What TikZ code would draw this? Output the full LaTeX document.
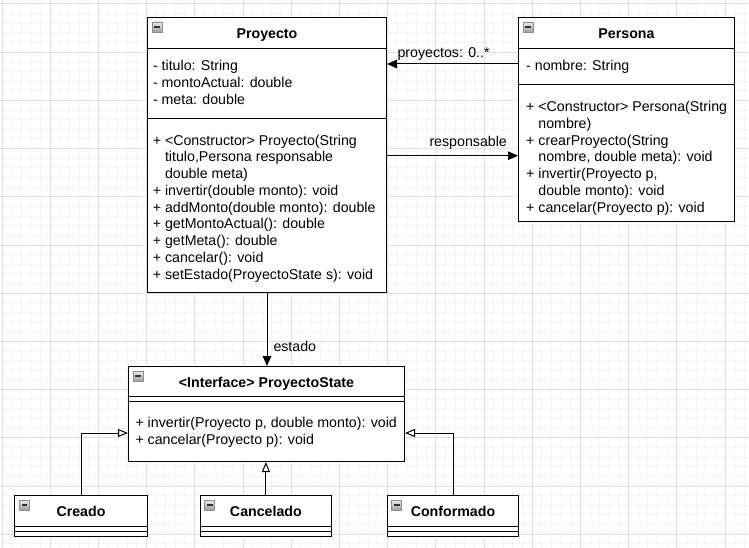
\documentclass[tikz,border=0pt]{standalone}
\usepackage{fontspec}
\setmainfont{Liberation Sans}
\usepackage{tikz}
\usetikzlibrary{arrows.meta}

\definecolor{gridminor}{RGB}{244,244,244}
\definecolor{gridmajor}{RGB}{224,224,224}

\newcommand{\minusicon}[1]{%
    \draw [draw=black!45, top color=black!8, bottom color=black!38, line width=0.6pt] ([shift={(5,5)}]#1) rectangle ++(10,10);
    \draw [line width=1.2pt, black!80] ([shift={(7.2,10)}]#1) -- ++(5.6,0);}

\begin{document}
\begin{tikzpicture}[x=1pt, y=-1pt, font=\fontsize{14.2}{16.75}\selectfont,
    classbox/.style={draw, fill=white, line width=1pt, inner sep=0pt, anchor=north west},
    member/.style={anchor=base west, align=left, inner sep=0pt},
    title/.style={anchor=base, inner sep=0pt, font=\fontsize{14.2}{16.75}\selectfont\bfseries},
    lbl/.style={anchor=base west, inner sep=0pt},
    assoc/.style={line width=1pt, -{Triangle[length=10pt, width=8.5pt]}},
    realize/.style={line width=1pt, -{Triangle[open, length=10pt, width=8pt, fill=white]}}]
    \useasboundingbox (0,0) rectangle (749,548);
    \fill [white] (0,0) rectangle (749,548);

    \foreach \i in {0,...,77} \draw [gridminor, line width=1pt] ({2+9.64*\i},0) -- ({2+9.64*\i},548);
    \foreach \j in {0,...,56} \draw [gridminor, line width=1pt] (0,{4+9.64*\j}) -- (749,{4+9.64*\j});
    \foreach \k in {0,...,15} \draw [gridmajor, line width=1pt] ({2+48.2*\k},0) -- ({2+48.2*\k},548);
    \foreach \k in {0,...,11} \draw [gridmajor, line width=1pt] (0,{4+48.2*\k}) -- (749,{4+48.2*\k});

    % multi-line members are placed by the baseline of their last line
    \node [classbox, minimum width=239pt, minimum height=275pt] (proyecto) at (147,17) {};
    \draw (proyecto.west |- 0,48) -- (proyecto.east |- 0,48);
    \draw (proyecto.west |- 0,118) -- (proyecto.east |- 0,118);
    \minusicon{proyecto.north west}
    \node [title] (tProyecto) at (proyecto.north |- 0,39) {Proyecto};
    \node [member] (aProyecto) at (152.8,104.3) {- titulo: String\\- montoActual: double\\- meta: double};
    \node [member] (mProyecto) at (152.6,279) {+ <Constructor> Proyecto(String\\\hphantom{+ }titulo,Persona responsable\\\hphantom{+ }double meta)\\+ invertir(double monto): void\\+ addMonto(double monto): double\\+ getMontoActual(): double\\+ getMeta(): double\\+ cancelar(): void\\+ setEstado(ProyectoState s): void};

    \node [classbox, minimum width=216pt, minimum height=204pt] (persona) at (518,17) {};
    \draw (persona.west |- 0,48) -- (persona.east |- 0,48);
    \draw (persona.west |- 0,84) -- (persona.east |- 0,84);
    \minusicon{persona.north west}
    \node [title] (tPersona) at (persona.north |- 0,39) {Persona};
    \node [member] (aPersona) at (526,71) {- nombre: String};
    \node [member] (mPersona) at (526,212.2) {+ <Constructor> Persona(String\\\hphantom{+ }nombre)\\+ crearProyecto(String\\\hphantom{+ }nombre, double meta): void\\+ invertir(Proyecto p,\\\hphantom{+ }double monto): void\\+ cancelar(Proyecto p): void};

    \node [classbox, minimum width=276pt, minimum height=95pt] (state) at (128,366) {};
    \draw (state.west |- 0,396) -- (state.east |- 0,396);
    \draw (state.west |- 0,401) -- (state.east |- 0,401);
    \minusicon{state.north west}
    \node [title] (tState) at (state.north |- 0,387.3) {<Interface> ProyectoState};
    \node [member] (mState) at (135.3,444.2) {+ invertir(Proyecto p, double monto): void\\+ cancelar(Proyecto p): void};

    \node [classbox, minimum width=132.4pt, minimum height=41pt] (creado) at (14.3,495) {};
    \node [classbox, minimum width=131.4pt, minimum height=41pt] (cancelado) at (199.7,495) {};
    \node [classbox, minimum width=131.6pt, minimum height=41pt] (conformado) at (386.7,495) {};
    \foreach \c/\t in {creado/Creado, cancelado/Cancelado, conformado/Conformado} {
        \draw (\c.west |- 0,526) -- (\c.east |- 0,526);
        \draw (\c.west |- 0,531) -- (\c.east |- 0,531);
        \minusicon{\c.north west}
        \node [title] (t\c) at (\c.north |- 0,516) {\t};
    }

    \draw [assoc] ([yshift=-47pt]persona.north west) coordinate (proyFrom) -- (proyecto.east |- proyFrom);
    \node [lbl] (lProyectos) at (397.3,57.3) {proyectos: 0..*};
    \draw [assoc] ([yshift=-138.7pt]proyecto.north east) coordinate (respFrom) -- (persona.west |- respFrom);
    \node [lbl] (lResponsable) at (429.3,146.7) {responsable};
    \draw [assoc] (proyecto.south) -- (proyecto.south |- state.north);
    \node [lbl] (lEstado) at (273.3,351) {estado};

    \draw [realize] (creado.north) |- ([yshift=-67pt]state.north west);
    \draw [realize] (cancelado.north) -- (cancelado.north |- state.south);
    \draw [realize] (conformado.north) |- ([yshift=-67pt]state.north east);
\end{tikzpicture}
\end{document}
